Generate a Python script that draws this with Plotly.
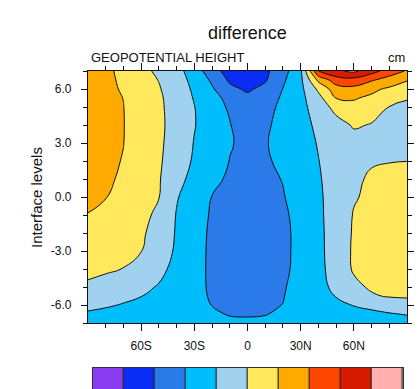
import plotly.graph_objects as go

# ---------------------------------------------------------------
# Zonal-mean difference of geopotential height (cm) on interface levels
# ---------------------------------------------------------------
lats = [-90, -80, -70, -60, -50, -40, -30, -20, -10, 0,
        10, 20, 30, 40, 50, 60, 70, 80, 90]
levels = [-7, -6.5, -6, -5.5, -5, -4, -3, -2, -1, 0,
          1, 2, 3, 4, 5, 5.5, 6, 6.5, 7]

# one row per interface level (bottom to top), one column per latitude
diff = [
    [-1.3, -1.38, -1.48, -1.58, -1.67, -1.75, -1.82, -1.87, -1.9, -1.92, -1.9, -1.85, -1.78, -1.7, -1.6, -1.5, -1.42, -1.35, -1.3],
    [-1.1, -1.2, -1.35, -1.5, -1.62, -1.75, -1.85, -1.93, -2.03, -2.04, -2.02, -1.92, -1.8, -1.65, -1.5, -1.35, -1.2, -1.06, -0.95],
    [-0.8, -0.91, -1.05, -1.24, -1.44, -1.63, -1.83, -2.01, -2.1, -2.2, -2.1, -1.99, -1.74, -1.47, -1.21, -0.96, -0.77, -0.59, -0.4],
    [-0.5, -0.66, -0.82, -0.98, -1.25, -1.54, -1.83, -2.06, -2.21, -2.35, -2.19, -2.03, -1.71, -1.34, -0.97, -0.55, -0.1, 0.08, 0.12],
    [-0.2, -0.41, -0.62, -0.82, -1.06, -1.43, -1.8, -2.1, -2.3, -2.5, -2.29, -2.07, -1.71, -1.28, -0.79, -0.21, 0.12, 0.16, 0.25],
    [0.3, 0.15, -0.02, -0.41, -0.79, -1.24, -1.77, -2.13, -2.37, -2.6, -2.37, -2.14, -1.79, -1.26, -0.6, 0.1, 0.45, 0.55, 0.55],
    [0.55, 0.37, 0.19, 0.02, -0.54, -1.13, -1.73, -2.14, -2.39, -2.65, -2.4, -2.16, -1.8, -1.24, -0.55, 0.12, 0.55, 0.68, 0.65],
    [0.75, 0.54, 0.33, 0.12, -0.33, -1.09, -1.69, -2.13, -2.39, -2.65, -2.4, -2.16, -1.8, -1.22, -0.55, 0.09, 0.55, 0.68, 0.65],
    [0.98, 0.7, 0.45, 0.2, -0.15, -1.05, -1.63, -2.09, -2.35, -2.6, -2.36, -2.13, -1.75, -1.18, -0.57, 0.05, 0.45, 0.6, 0.6],
    [1.15, 1.03, 0.72, 0.37, 0.02, -0.93, -1.5, -2.02, -2.26, -2.5, -2.28, -2.05, -1.63, -1.14, -0.61, -0.07, 0.17, 0.36, 0.55],
    [1.25, 1.11, 0.9, 0.49, 0.07, -0.68, -1.31, -1.81, -2.12, -2.33, -2.19, -1.97, -1.53, -1.08, -0.64, -0.2, 0.15, 0.24, 0.4],
    [1.3, 1.14, 0.97, 0.54, 0.12, -0.5, -1.12, -1.57, -2.02, -2.25, -2.11, -1.82, -1.42, -1.02, -0.6, -0.35, -0.1, -0.03, -0.01],
    [1.3, 1.15, 1.01, 0.59, 0.16, -0.41, -1.04, -1.49, -1.94, -2.2, -2.06, -1.72, -1.33, -0.95, -0.65, -0.36, -0.35, -0.38, -0.4],
    [1.3, 1.16, 1.02, 0.61, 0.18, -0.35, -0.96, -1.47, -1.97, -2.3, -2.13, -1.75, -1.29, -0.83, -0.37, 0.1, -0.05, -0.16, -0.3],
    [1.35, 1.18, 1.01, 0.58, 0.16, -0.38, -0.98, -1.58, -2.13, -2.6, -2.25, -1.83, -1.28, -0.55, 0.32, 0.78, 0.37, -0.02, -0.15],
    [1.4, 1.2, 0.99, 0.57, 0.14, -0.43, -1.06, -1.7, -2.27, -2.75, -2.37, -1.9, -1.27, -0.31, 1.02, 1.07, 0.84, 0.45, 0.05],
    [1.45, 1.2, 0.92, 0.5, 0.07, -0.51, -1.15, -1.89, -2.75, -3.15, -2.72, -1.98, -1.25, 0.19, 1.57, 1.7, 1.2, 0.85, 0.6],
    [1.5, 1.2, 0.85, 0.41, -0.03, -0.6, -1.27, -2.16, -3.15, -3.4, -3.1, -2.15, -1.23, 1.23, 2.5, 2.64, 2.11, 1.58, 1.05],
    [1.6, 1.2, 0.76, 0.29, -0.2, -0.7, -1.44, -2.65, -3.35, -3.6, -3.2, -2.39, -1.2, 3.0, 3.83, 4.2, 3.39, 2.56, 1.9],
]

# contour levels and the fill colour of each band (lowest band first)
contour_start, contour_end, contour_step = -4, 4, 1
band_colors = ['#8a3cf0', '#0a2cf5', '#2a7aea', '#00bdfc', '#a0d2f0',
               '#ffe85c', '#ffaa00', '#ff4600', '#d81a00', '#ffafaf']

lat_ticks = [-60, -30, 0, 30, 60]
lat_labels = ['60S', '30S', '0', '30N', '60N']
lat_minor = [-80, -70, -50, -40, -20, -10, 10, 20, 40, 50, 70, 80]
lev_ticks = [-6, -3, 0, 3, 6]
lev_labels = ['-6.0', '-3.0', '0.0', '3.0', '6.0']
lev_minor = [-7, -5, -4, -2, -1, 1, 2, 4, 5, 7]

# ---------------------------------------------------------------
W, H = 418, 389
ML, MR, MT, MB = 88, 11, 71, 0
PW, PH = W - ML - MR, H - MT - MB


def fx(px):
    return (px - ML) / PW


def fy(py):
    return (H - MB - py) / PH


n = len(band_colors)
scale = [[i / (n - 1), c] for i, c in enumerate(band_colors)]

fig = go.Figure()

fig.add_trace(go.Contour(
    x=lats, y=levels, z=diff,
    autocontour=False,
    contours=dict(start=contour_start, end=contour_end, size=contour_step,
                  coloring='fill', showlines=True),
    colorscale=scale,
    line=dict(color='#111111', width=1, smoothing=1.3),
    showscale=False, hoverinfo='skip',
    xaxis='x', yaxis='y',
))

# label bar: one box per contour band
fig.add_trace(go.Heatmap(
    z=[list(range(n))], x=list(range(n)), y=[0],
    colorscale=scale, zmin=0, zmax=n - 1,
    xgap=1.2, showscale=False, hoverinfo='skip',
    xaxis='x2', yaxis='y2',
))

tickfont = dict(family='Liberation Sans, Arial, sans-serif', size=12, color='#111111')

fig.update_layout(
    width=W, height=H,
    margin=dict(l=ML, r=MR, t=MT, b=MB, pad=0),
    paper_bgcolor='white', plot_bgcolor='#2a2a2a',
    showlegend=False,
    xaxis=dict(
        domain=[0, 1], range=[-90, 90], anchor='y',
        tickvals=lat_ticks, ticktext=lat_labels,
        ticks='outside', ticklen=7, tickwidth=1, tickcolor='#111111',
        minor=dict(tickvals=lat_minor, ticks='outside', ticklen=4,
                   tickwidth=1, tickcolor='#111111'),
        showline=True, linecolor='#111111', linewidth=1.2, mirror='ticks',
        showgrid=False, zeroline=False, tickfont=tickfont,
        ticklabelstandoff=4,
    ),
    yaxis=dict(
        domain=[fy(323), 1], range=[-7, 7], anchor='x',
        tickvals=lev_ticks, ticktext=lev_labels,
        ticks='outside', ticklen=6, tickwidth=1, tickcolor='#111111',
        minor=dict(tickvals=lev_minor, ticks='outside', ticklen=4,
                   tickwidth=1, tickcolor='#111111'),
        showline=True, linecolor='#111111', linewidth=1.2, mirror='ticks',
        showgrid=False, zeroline=False, tickfont=tickfont,
        ticklabelstandoff=7,
    ),
    xaxis2=dict(
        domain=[fx(92.7), fx(402.7)], range=[-0.5, n - 0.5], anchor='y2',
        side='top', showline=True, linecolor='#333333', linewidth=1.2,
        showticklabels=False, ticks='', showgrid=False, zeroline=False,
    ),
    yaxis2=dict(
        domain=[0, fy(368)], range=[-0.2, 0.5], anchor='x2',
        showline=True, linecolor='#333333', linewidth=1.2, mirror=True,
        showticklabels=False, ticks='', showgrid=False, zeroline=False,
    ),
    annotations=[
        dict(text='difference', x=fx(247.5), y=fy(32.5), xref='paper', yref='paper',
             xanchor='center', yanchor='middle', showarrow=False,
             font=dict(family='Liberation Sans, Arial, sans-serif', size=18, color='#111111')),
        dict(text='GEOPOTENTIAL HEIGHT', x=fx(88.5), y=fy(57), xref='paper', yref='paper',
             xanchor='left', yanchor='middle', showarrow=False,
             font=dict(family='Liberation Sans, Arial, sans-serif', size=13, color='#111111')),
        dict(text='cm', x=fx(406.5), y=fy(57), xref='paper', yref='paper',
             xanchor='right', yanchor='middle', showarrow=False,
             font=dict(family='Liberation Sans, Arial, sans-serif', size=13, color='#111111')),
        dict(text='Interface levels', x=fx(36), y=fy(198), xref='paper', yref='paper',
             xanchor='center', yanchor='middle', textangle=-90, showarrow=False,
             font=dict(family='Liberation Sans, Arial, sans-serif', size=15, color='#111111')),
    ],
)

fig.write_html('out.html')
